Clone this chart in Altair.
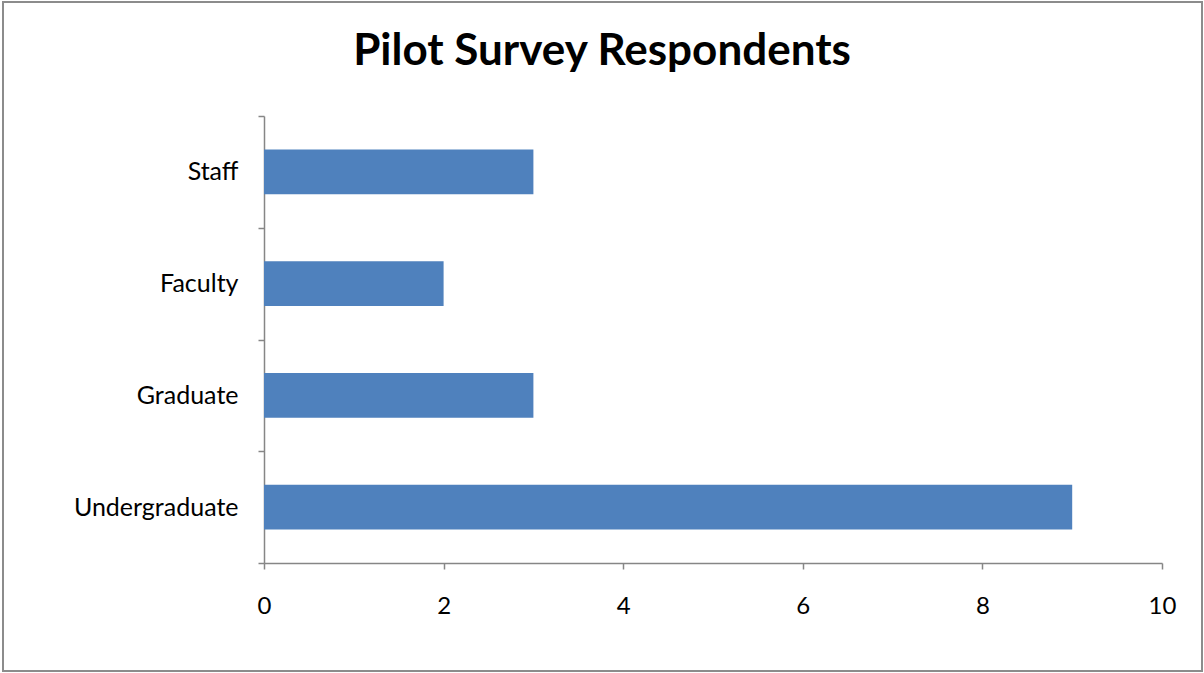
import altair as alt
import pandas as pd

categories = ["Staff", "Faculty", "Graduate", "Undergraduate"]
values = [3, 2, 3, 9]
x_ticks = [0, 2, 4, 6, 8, 10]
title_text = "Pilot Survey Respondents"

df = pd.DataFrame({"group": categories, "count": values})

FONT = "Lato"
AXIS = "#868686"

bars = alt.Chart(df).mark_bar(color="#4F81BD", height=alt.RelativeBandSize(0.4)).encode(
    y=alt.Y(
        "group:N",
        sort=categories,
        title=None,
        scale=alt.Scale(paddingInner=0, paddingOuter=0),
        axis=alt.Axis(
            tickBand="extent",
            domainColor=AXIS,
            tickColor=AXIS,
            domainWidth=1.5,
            tickWidth=1.5,
            tickSize=6,
            labelPadding=20,
            labelFontSize=25,
            labelFont=FONT,
            labelColor="#000000",
            grid=False,
        ),
    ),
    x=alt.X(
        "count:Q",
        title=None,
        scale=alt.Scale(domain=[0, 10], nice=False),
        axis=alt.Axis(
            values=x_ticks,
            domainColor=AXIS,
            tickColor=AXIS,
            domainWidth=1.5,
            tickWidth=1.5,
            tickSize=6,
            labelPadding=25,
            labelFontSize=24,
            labelFont=FONT,
            labelColor="#000000",
            labelFlush=False,
            grid=False,
        ),
    ),
)

single = pd.DataFrame({"t": [title_text]})

border = alt.Chart(single).mark_rect(
    fill=None, stroke="#8C8C8C", strokeWidth=2, clip=False
).encode(
    x=alt.value(-261),
    x2=alt.value(938),
    y=alt.value(-114),
    y2=alt.value(555),
)

title = alt.Chart(single).mark_text(
    font=FONT, fontSize=44, fontWeight="bold", color="#000000",
    align="center", baseline="alphabetic", clip=False,
).encode(
    text="t:N",
    x=alt.value(338),
    y=alt.value(-51),
)

chart = alt.layer(bars, border, title).properties(
    width=898,
    height=447,
    autosize=alt.AutoSizeParams(type="none"),
    padding={"left": 264, "top": 116, "right": 42, "bottom": 110},
).configure(background="#FFFFFF", view=alt.ViewConfig(stroke=None))

chart.save("out.html", embed_options={"renderer": "svg", "actions": False})
